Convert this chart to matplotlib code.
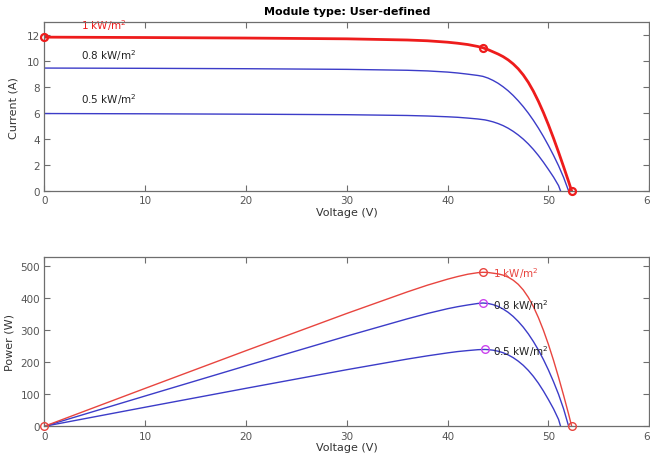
import numpy as np
import matplotlib.pyplot as plt

# irradiance levels (kW/m^2)
levels = ['1', '0.8', '0.5']

# 1 kW/m^2 curve
v_1 = [0, 10, 20, 30, 36, 38, 40, 41, 42, 43, 43.5, 44, 44.5, 45, 45.5, 46,
       46.5, 47, 47.5, 48, 48.5, 49, 49.5, 50, 50.5, 51, 51.5, 52, 52.3]
i_1 = [11.85, 11.82, 11.78, 11.72, 11.63, 11.57, 11.46, 11.38, 11.28, 11.13,
       11.03, 10.89, 10.72, 10.55, 10.35, 10.10, 9.79, 9.41, 8.94, 8.37, 7.69,
       6.91, 6.04, 5.09, 4.07, 2.99, 1.87, 0.72, 0.0]
p_1 = [0, 118.2, 235.6, 351.6, 418.7, 439.7, 458.4, 466.6, 473.8, 478.6,
       479.8, 479.2, 477.0, 474.8, 470.9, 464.6, 455.2, 442.3, 424.7, 401.8,
       373.0, 338.6, 299.0, 254.5, 205.5, 152.5, 96.3, 37.4, 0]

# 0.8 kW/m^2 curve
v_08 = [0, 10, 20, 30, 36, 38, 40, 41, 42, 43, 43.5, 44, 44.5, 45, 45.5, 46,
        46.5, 47, 47.5, 48, 48.5, 49, 49.5, 50, 50.5, 51, 51.5, 52.0]
i_08 = [9.47, 9.45, 9.42, 9.37, 9.30, 9.25, 9.16, 9.09, 9.00, 8.90, 8.83,
        8.70, 8.52, 8.30, 8.03, 7.72, 7.36, 6.95, 6.50, 6.00, 5.45, 4.85,
        4.20, 3.50, 2.75, 1.95, 1.05, 0.0]
p_08 = [0, 94.5, 188.4, 281.1, 334.8, 351.5, 366.4, 372.7, 378.0, 382.7,
        384.1, 382.8, 379.1, 373.5, 365.4, 355.1, 342.2, 326.7, 308.8, 288.0,
        264.3, 237.7, 207.9, 175.0, 138.9, 99.5, 54.1, 0]

# 0.5 kW/m^2 curve
v_05 = [0, 10, 20, 30, 36, 38, 40, 41, 42, 43, 43.7, 44, 44.5, 45, 45.5, 46,
        46.5, 47, 47.5, 48, 48.5, 49, 49.5, 50, 50.5, 51, 51.2]
i_05 = [5.97, 5.95, 5.92, 5.88, 5.82, 5.78, 5.72, 5.68, 5.62, 5.55, 5.48,
        5.43, 5.33, 5.20, 5.04, 4.84, 4.60, 4.32, 4.00, 3.63, 3.21, 2.74,
        2.22, 1.66, 1.08, 0.42, 0.0]
p_05 = [0, 59.5, 118.4, 176.4, 209.5, 219.6, 228.8, 232.9, 236.0, 238.7,
        239.5, 238.9, 237.2, 234.0, 229.3, 222.6, 213.9, 203.0, 190.0, 174.2,
        155.7, 134.3, 109.9, 83.0, 54.5, 21.4, 0]

red = '#ee1c1c'
red_thin = '#e8453f'
blue = '#3c3cc8'
magenta = '#cc44ee'
grey = '#555555'

fig = plt.figure(figsize=(6.5, 4.64), dpi=100)
ax1 = fig.add_axes([0.068, 0.586, 0.931, 0.364])
ax2 = fig.add_axes([0.068, 0.079, 0.931, 0.364])


def style(ax):
    for s in ax.spines.values():
        s.set_color('#6e6e6e')
        s.set_linewidth(0.9)
    ax.tick_params(direction='in', top=True, right=True, length=4,
                   labelsize=7.5, colors='#6e6e6e', labelcolor=grey, pad=3)
    ax.set_xlim(0, 60)
    ax.set_xticks(np.arange(0, 61, 10))


# ---- I-V ----
style(ax1)
ax1.plot(v_05, i_05, color=blue, lw=1.0)
ax1.plot(v_08, i_08, color=blue, lw=1.0)
ax1.plot(v_1, i_1, color=red, lw=2.0)
k = int(np.argmax(p_1))
ax1.plot([v_1[0], v_1[k], v_1[-1]], [i_1[0], i_1[k], i_1[-1]], 'o',
         mfc='none', mec=red, mew=1.6, ms=5, clip_on=False, zorder=5)
ax1.set_ylim(0, 13)
ax1.set_yticks(np.arange(0, 13, 2))
ax1.set_xlabel('Voltage (V)', fontsize=8, color='#333333', labelpad=1)
ax1.set_ylabel('Current (A)', fontsize=8, color='#333333', labelpad=6)
ax1.set_title('Module type: User-defined', fontsize=8, fontweight='bold',
              pad=6)
ax1.text(3.6, 12.8, '1 kW/m$^2$', color=red, fontsize=7.5, va='center',
         zorder=1)
ax1.text(3.6, 10.5, '0.8 kW/m$^2$', color='#222222', fontsize=7.5,
         va='center')
ax1.text(3.6, 7.15, '0.5 kW/m$^2$', color='#222222', fontsize=7.5,
         va='center')

# ---- P-V ----
style(ax2)
ax2.plot(v_05, p_05, color=blue, lw=1.0)
ax2.plot(v_08, p_08, color=blue, lw=1.0)
ax2.plot(v_1, p_1, color=red_thin, lw=1.0)
ax2.plot([v_1[0], v_1[k], v_1[-1]], [p_1[0], p_1[k], p_1[-1]], 'o',
         mfc='none', mec=red_thin, mew=1.0, ms=5.5, clip_on=False, zorder=5)
k08 = int(np.argmax(p_08))
k05 = int(np.argmax(p_05))
ax2.plot([v_08[k08], v_05[k05]], [p_08[k08], p_05[k05]], 'o', mfc='none',
         mec=magenta, mew=1.0, ms=5.5, zorder=5)
ax2.set_ylim(0, 526)
ax2.set_yticks(np.arange(0, 501, 100))
ax2.set_xlabel('Voltage (V)', fontsize=8, color='#333333', labelpad=1)
ax2.set_ylabel('Power (W)', fontsize=8, color='#333333', labelpad=4)
ax2.text(v_1[k] + 1.0, p_1[k] - 2, '1 kW/m$^2$', color=red_thin,
         fontsize=7.5, va='center')
ax2.text(v_08[k08] + 1.0, p_08[k08] - 5, '0.8 kW/m$^2$', color='#222222',
         fontsize=7.5, va='center')
ax2.text(v_05[k05] + 0.8, p_05[k05] - 5, '0.5 kW/m$^2$', color='#222222',
         fontsize=7.5, va='center')

fig.savefig('out.png', dpi=100)
